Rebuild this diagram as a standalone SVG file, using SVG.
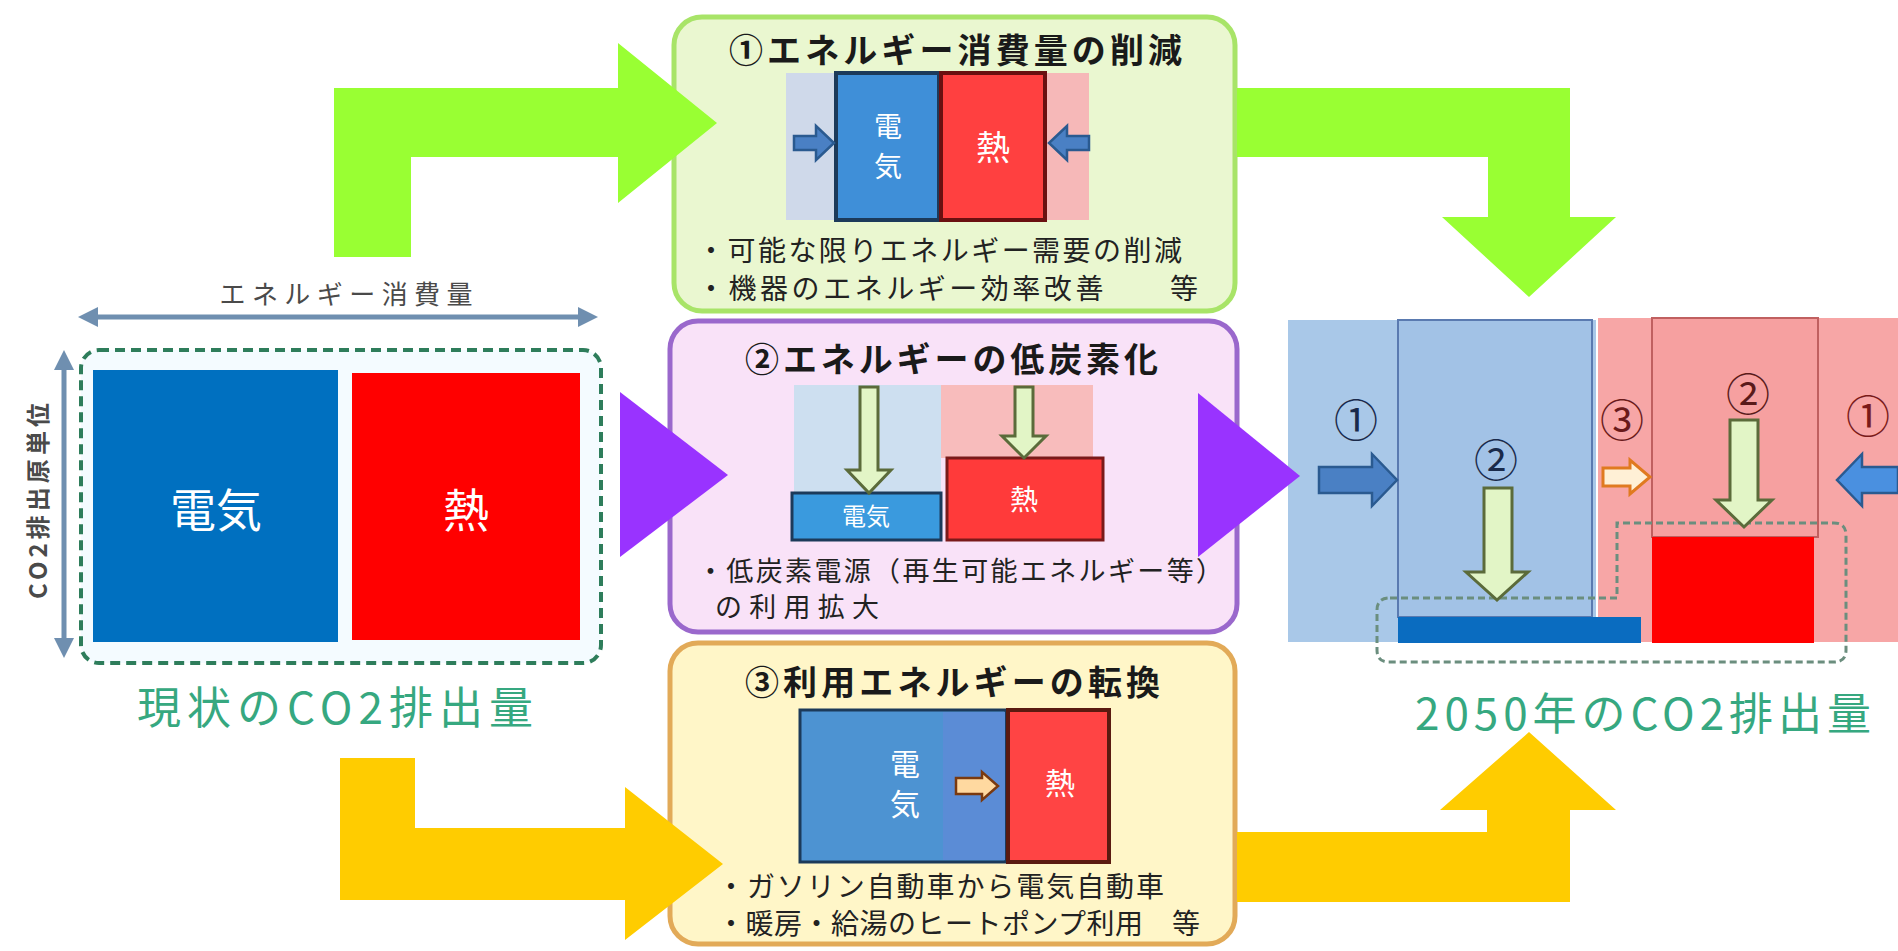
<svg xmlns="http://www.w3.org/2000/svg" width="1898" height="951" viewBox="0 0 1898 951">
<defs>
<style>
text{font-family:"Noto Sans CJK JP","Noto Sans CJK SC",sans-serif;}
.title{font-size:34px;font-weight:bold;fill:#1a1a1a;}
.bul{font-size:28px;fill:#222;}
.wt{fill:#fff;text-anchor:middle;}
.big{font-size:44px;fill:#36a880;}
.cn{font-size:44px;text-anchor:middle;}
.gdown{fill:#e2f5c6;stroke:#5b6b3a;stroke-width:3;}
.blarrow{fill:#4a80c4;stroke:#2a5a90;stroke-width:2.5;}
</style>
<marker id="dh" viewBox="0 0 10 10" refX="5" refY="5" markerWidth="4" markerHeight="4" orient="auto-start-reverse">
<path d="M0,0 L10,5 L0,10 Z" fill="#6f8fb0"/>
</marker>
</defs>
<rect width="1898" height="951" fill="#fff"/>

<!-- Current CO2 (left) -->
<g id="current">
<text x="346" y="304" font-size="26" fill="#4a4a4a" text-anchor="middle" textLength="253">エネルギー消費量</text>
<line x1="88" y1="317" x2="588" y2="317" stroke="#6f8fb0" stroke-width="5" marker-start="url(#dh)" marker-end="url(#dh)"/>
<line x1="64" y1="360" x2="64" y2="648" stroke="#6f8fb0" stroke-width="5" marker-start="url(#dh)" marker-end="url(#dh)"/>
<text transform="translate(47,501) rotate(-90)" font-size="24" font-weight="bold" fill="#4a4a4a" text-anchor="middle" textLength="196">CO2排出原単位</text>
<rect x="81" y="350" width="520" height="313" rx="18" fill="#f4fbff" stroke="#2e7d5b" stroke-width="4" stroke-dasharray="10 6"/>
<rect x="93" y="370" width="245" height="272" fill="#0070c0"/>
<rect x="352" y="373" width="228" height="267" fill="#ff0000"/>
<text x="216" y="527" class="wt" font-size="46">電気</text>
<text x="466" y="527" class="wt" font-size="46">熱</text>
<text x="137" y="724" class="big" textLength="396">現状のCO2排出量</text>
</g>

<!-- Box 1 -->
<g id="box1">
<rect x="674" y="17" width="561" height="294" rx="28" fill="#eaf7d0" stroke="#a8e468" stroke-width="5"/>
<text x="729" y="63" class="title" textLength="453">①エネルギー消費量の削減</text>
<rect x="786" y="73" width="50" height="147" fill="#cfd9ea"/>
<rect x="1045" y="73" width="44" height="147" fill="#f6b8b8"/>
<rect x="836" y="73" width="103" height="147" fill="#3f8fd8" stroke="#1c3a5a" stroke-width="4"/>
<rect x="941" y="73" width="104" height="147" fill="#ff4040" stroke="#6a1010" stroke-width="4"/>
<text x="888" y="137" class="wt" font-size="28">電</text>
<text x="888" y="177" class="wt" font-size="28">気</text>
<text x="993" y="160" class="wt" font-size="34">熱</text>
<path class="blarrow" d="M794,136 H816 V126 L834,143 L816,160 V150 H794 Z"/>
<path class="blarrow" d="M1089,136 H1067 V126 L1049,143 L1067,160 V150 H1089 Z"/>
<text x="697" y="261" class="bul" textLength="485">・可能な限りエネルギー需要の削減</text>
<text x="697" y="299" class="bul" textLength="501">・機器のエネルギー効率改善　　等</text>
</g>

<!-- Box 2 -->
<g id="box2">
<rect x="670" y="321" width="567" height="311" rx="28" fill="#f9e2f8" stroke="#9a68cc" stroke-width="5"/>
<text x="745" y="372" class="title" textLength="413">②エネルギーの低炭素化</text>
<rect x="794" y="385" width="147" height="155" fill="#cddff0"/>
<rect x="941" y="385" width="152" height="73" fill="#f8bcbc"/>
<rect x="947" y="458" width="156" height="82" fill="#ff3a3a" stroke="#7a1a1a" stroke-width="3"/>
<rect x="792" y="493" width="149" height="47" fill="#3a9ade" stroke="#1c3a5a" stroke-width="3"/>
<text x="866" y="525" class="wt" font-size="24">電気</text>
<text x="1024" y="510" class="wt" font-size="28">熱</text>
<path class="gdown" d="M860,387 H878 V470 H891 L869,493 L847,470 H860 Z"/>
<path class="gdown" d="M1015,387 H1033 V436 H1046 L1024,458 L1002,436 H1015 Z"/>
<text x="697" y="581" class="bul" font-size="27" style="font-size:27px" textLength="526">・低炭素電源（再生可能エネルギー等）</text>
<text x="715" y="617" class="bul" style="font-size:27px" textLength="164">の利用拡大</text>
</g>

<!-- Box 3 -->
<g id="box3">
<rect x="670" y="643" width="565" height="301" rx="28" fill="#fff6c8" stroke="#e2aa58" stroke-width="5"/>
<text x="745" y="695" class="title" textLength="415">③利用エネルギーの転換</text>
<rect x="800" y="710" width="206" height="152" fill="#4d93d2" stroke="#1c3a5a" stroke-width="3"/>
<rect x="943" y="712" width="62" height="148" fill="#5b8cd6"/>
<rect x="1008" y="710" width="101" height="152" fill="#ff4444" stroke="#5a1a10" stroke-width="4"/>
<text x="905" y="775" class="wt" font-size="30">電</text>
<text x="905" y="815" class="wt" font-size="30">気</text>
<text x="1060" y="794" class="wt" font-size="30">熱</text>
<path d="M956,778 H982 V772 L998,786 L982,800 V794 H956 Z" fill="#ffd9a0" stroke="#7a3a10" stroke-width="2.5"/>
<text x="717" y="897" class="bul" textLength="447">・ガソリン自動車から電気自動車</text>
<text x="717" y="934" class="bul" textLength="483">・暖房・給湯のヒートポンプ利用　等</text>
</g>

<!-- 2050 CO2 (right) -->
<g id="future">
<rect x="1288" y="320" width="308" height="322" fill="#a9c8e8"/>
<rect x="1398" y="320" width="194" height="297" fill="#a2c2e6" stroke="#5a7ab0" stroke-width="2"/>
<rect x="1598" y="318" width="300" height="324" fill="#f7a6a6"/>
<rect x="1652" y="318" width="166" height="219" fill="#f6a0a0" stroke="#c06060" stroke-width="2"/>
<rect x="1398" y="617" width="243" height="26" fill="#0a6cc0"/>
<rect x="1652" y="537" width="162" height="106" fill="#ff0000"/>
<path d="M1390,598 H1617 V523 H1834 Q1846,523 1846,535 V650 Q1846,662 1834,662 H1389 Q1377,662 1377,650 V610 Q1377,598 1390,598 Z" fill="none" stroke="#6b8e7e" stroke-width="3" stroke-dasharray="7 4"/>
<path class="blarrow" d="M1319,467 H1372 V454 L1397,480 L1372,506 V493 H1319 Z"/>
<path d="M1898,467 H1862 V454 L1837,480 L1862,506 V493 H1898 Z" fill="#4a90e0" stroke="#2a5a90" stroke-width="2.5"/>
<path d="M1603,468 H1630 V460 L1650,477 L1630,494 V486 H1603 Z" fill="#fff0d6" stroke="#e07a20" stroke-width="3"/>
<path class="gdown" d="M1484,488 H1512 V572 H1528 L1497,600 L1466,572 H1484 Z"/>
<path class="gdown" d="M1730,420 H1758 V500 H1772 L1744,527 L1716,500 H1730 Z"/>
<text x="1356" y="437" class="cn" fill="#1a2a4a">①</text>
<text x="1496" y="477" class="cn" fill="#1a2a4a">②</text>
<text x="1622" y="437" class="cn" fill="#6a1a1a">③</text>
<text x="1748" y="411" class="cn" fill="#5a1a1a">②</text>
<text x="1868" y="433" class="cn" fill="#7a1a1a">①</text>
<text x="1415" y="730" class="big" textLength="456">2050年のCO2排出量</text>
</g>

<!-- Connectors -->
<g id="connectors">
<polygon fill="#99ff33" points="334,257 334,88 618,88 618,43 717,123 618,203 618,157 411,157 411,257"/>
<polygon fill="#99ff33" points="1237,88 1570,88 1570,217 1616,217 1529,297 1442,217 1488,217 1488,157 1237,157"/>
<polygon fill="#9933ff" points="620,392 620,557 728,475"/>
<polygon fill="#9933ff" points="1198,393 1198,557 1300,476"/>
<polygon fill="#ffcc00" points="340,758 415,758 415,828 625,828 625,787 723,864 625,940 625,900 340,900"/>
<polygon fill="#ffcc00" points="1237,832 1487,832 1487,810 1440,810 1529,732 1616,810 1570,810 1570,902 1237,902"/>
</g>
</svg>
